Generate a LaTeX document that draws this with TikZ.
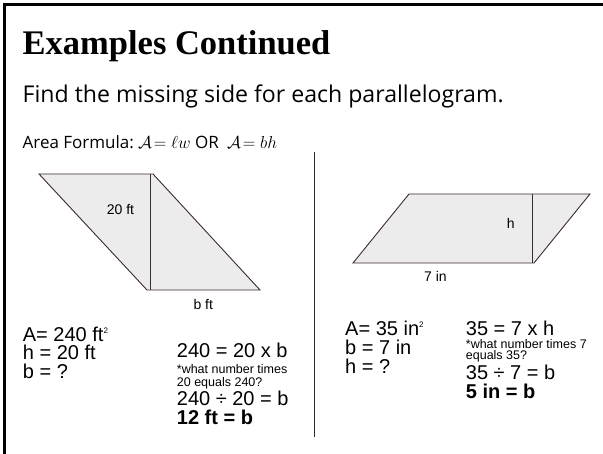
\documentclass[tikz,border=0pt]{standalone}
\usepackage{fontspec}
\setmainfont{Liberation Sans}
\newfontfamily\titlefont{Liberation Serif}
\newfontfamily\comicfont{Open Sans}
\definecolor{edge}{RGB}{62,42,52}
\definecolor{shade}{RGB}{236,236,236}
\definecolor{divider}{RGB}{40,40,40}
\newcommand{\sqsup}{{\fontsize{8}{8}\selectfont\raisebox{8.5pt}{2}}}
\begin{document}
\begin{tikzpicture}[x=1pt,y=-1pt,
  txt/.style={anchor=base west, inner sep=0, font=\fontsize{20}{20}\selectfont},
  boldtxt/.style={txt, font=\fontsize{20}{20}\selectfont\bfseries},
  smalltxt/.style={anchor=base west, inner sep=0, font=\fontsize{12.5}{13}\selectfont},
  lbl/.style={anchor=base west, inner sep=0, font=\fontsize{14}{14}\selectfont},
  comic/.style={anchor=base west, inner sep=0, font=\comicfont\fontsize{17}{20}\selectfont},
  formula/.style={anchor=base west, inner sep=0, font=\fontsize{17}{20}\selectfont},
  pgram/.style={draw=edge, fill=shade, line width=0.9pt, line join=miter},
  hline/.style={draw=edge, line width=0.9pt}]
\useasboundingbox (0,0) rectangle (603,454);
% frame (top and left only)
\draw[line width=2.6pt, black] (603,4.6) -- (4.6,4.6) -- (4.6,454);
% title
\node[anchor=base west, inner sep=0, font=\titlefont\bfseries\fontsize{34.5}{40}\selectfont] (title) at (22.5,55) {Examples Continued};
\node[anchor=base west, inner sep=0, font=\comicfont\fontsize{23.1}{27}\selectfont] (task) at (22.5,103) {Find the missing side for each parallelogram.};
\node[comic] (formula) at (22.5,148.3) {Area Formula:};
\node[formula] (f1) at (138,148.3) {$\mathcal{A}\!=\ell w$};
\node[comic] (for) at (195,148.3) {OR};
\node[formula] (f2) at (227,148.3) {$\mathcal{A}\!=bh$};
% divider
\draw[divider, line width=1pt] (314,152) coordinate (d1) -- (314,437) coordinate (d2);
% left parallelogram
\draw[pgram] (39,174) coordinate (a1) -- (153,174) coordinate (a2) -- (260,290) coordinate (a3) -- (147,290) coordinate (a4) -- cycle;
\draw[hline] (150,174) coordinate (ah1) -- (150,290) coordinate (ah2);
\node[lbl] (l20) at (106.7,215) {20 ft};
\node[lbl] (lbft) at (193.3,310) {b ft};
% right parallelogram
\draw[pgram] (409,194) coordinate (b1) -- (590,194) coordinate (b2) -- (534,263) coordinate (b3) -- (353,263) coordinate (b4) -- cycle;
\draw[hline] (532.5,194) coordinate (bh1) -- (532.5,263) coordinate (bh2);
\node[lbl] (lh) at (506.7,228.3) {h};
\node[lbl] (l7) at (424,281.7) {7 in};
% left givens
\node[txt] (la) at (22.7,341.7) {A= 240 ft\sqsup};
\node[txt] (lhh) at (22.7,360) {h = 20 ft};
\node[txt] (lb) at (22.7,378.3) {b = ?};
% left work
\node[txt] (lw1) at (176.7,358) {240 = 20 x b};
\node[smalltxt] (lw2) at (176.7,373.5) {*what number times};
\node[smalltxt] (lw3) at (176.7,386.5) {20 equals 240?};
\node[txt, text depth=1pt] (lw4) at (176.7,405.5) {240 \char"00F7{} 20 = b};
\node[boldtxt] (lw5) at (176.7,424.5) {12 ft = b};
% right givens
\node[txt] (ra) at (345,336) {A= 35 in\sqsup};
\node[txt] (rb) at (345,355) {b = 7 in};
\node[txt] (rh) at (345,373.3) {h = ?};
% right work
\node[txt, text depth=1pt] (rw1) at (465.7,335.5) {35 = 7 x h};
\node[smalltxt] (rw2) at (465.7,348.5) {*what number times 7};
\node[smalltxt] (rw3) at (465.7,359.5) {equals 35?};
\node[txt, text depth=1pt] (rw4) at (465.7,380) {35 \char"00F7{} 7 = b};
\node[boldtxt] (rw5) at (465.7,398.5) {5 in = b};
\end{tikzpicture}
\end{document}
